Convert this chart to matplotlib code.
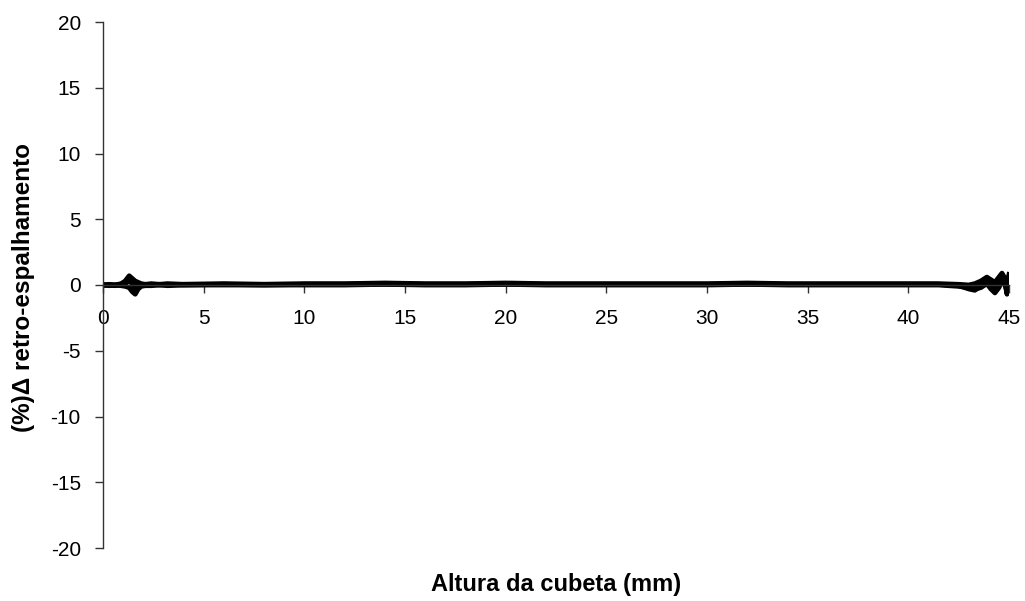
import matplotlib
matplotlib.use("Agg")
import matplotlib.pyplot as plt

plt.rcParams['font.family'] = ['Liberation Sans', 'DejaVu Sans']
plt.rcParams['axes.unicode_minus'] = False

# Measurement heights (mm)
x_pos = [0.0, 0.3, 0.6, 0.9, 1.1, 1.3, 1.45, 1.6, 1.75, 1.9, 2.1, 2.4, 2.8, 3.2, 4.0,
         6.0, 8.0, 10.0, 12.0, 14.0, 16.0, 18.0, 20.0, 22.0, 24.0, 26.0, 28.0, 30.0,
         32.0, 34.0, 36.0, 38.0, 40.0, 41.5, 42.5, 43.0, 43.3, 43.6, 43.9, 44.1, 44.3,
         44.5, 44.65, 44.8, 44.9, 45.0]

# Backscattering variation curves (%), one per scan
scan_1 = [0.0, 0.05, 0.0, 0.1, 0.3, 0.7, 0.5, 0.3, 0.2, 0.1, 0.05, 0.1, 0.05, 0.1, 0.05,
          0.1, 0.05, 0.1, 0.1, 0.15, 0.1, 0.1, 0.15, 0.1, 0.1, 0.1, 0.1, 0.1,
          0.15, 0.1, 0.1, 0.1, 0.1, 0.1, 0.05, 0.0, 0.1, 0.3, 0.6, 0.4, 0.2,
          0.6, 0.9, 0.5, 0.1, 0.8]
scan_2 = [0.0, 0.0, -0.05, 0.05, 0.2, 0.5, 0.4, 0.2, 0.1, 0.05, 0.0, 0.05, 0.0, 0.05, 0.0,
          0.05, 0.0, 0.05, 0.05, 0.1, 0.05, 0.05, 0.1, 0.05, 0.05, 0.05, 0.05, 0.05,
          0.1, 0.05, 0.05, 0.05, 0.05, 0.05, 0.0, -0.1, 0.0, 0.2, 0.4, 0.2, 0.0,
          0.4, 0.7, 0.3, -0.3, 0.6]
scan_3 = [0.0, -0.05, 0.0, -0.05, -0.1, -0.2, -0.5, -0.7, -0.3, -0.1, -0.05, -0.05, 0.0, -0.05, 0.0,
          0.0, 0.0, 0.0, 0.0, 0.05, 0.0, 0.0, 0.05, 0.0, 0.0, 0.0, 0.0, 0.0,
          0.05, 0.0, 0.0, 0.0, 0.0, 0.0, -0.1, -0.2, -0.3, -0.2, 0.1, -0.3, -0.6,
          -0.2, 0.3, 0.0, -0.5, 0.2]
scan_4 = [0.0, 0.0, 0.0, 0.0, 0.1, 0.3, 0.1, -0.3, -0.1, 0.0, 0.0, 0.0, 0.05, 0.0, 0.05,
          0.05, 0.05, 0.05, 0.05, 0.05, 0.05, 0.05, 0.05, 0.05, 0.05, 0.05, 0.05, 0.05,
          0.05, 0.05, 0.05, 0.05, 0.05, 0.05, -0.05, -0.3, -0.4, -0.1, 0.3, 0.0, -0.3,
          0.1, 0.5, 0.2, -0.7, 0.4]
scans = [scan_1, scan_2, scan_3, scan_4]

x_ticks = [0, 5, 10, 15, 20, 25, 30, 35, 40, 45]
y_ticks = [-20, -15, -10, -5, 0, 5, 10, 15, 20]

fig = plt.figure(figsize=(10.25, 6.01), dpi=100)
ax = fig.add_axes([103 / 1025, 1 - 548 / 601, (1009 - 103) / 1025, (548 - 22) / 601])

for s in scans:
    ax.plot(x_pos, s, color='black', linewidth=3.5, solid_joinstyle='round')

ax.set_xlim(0, 45)
ax.set_ylim(-20, 20)
ax.set_xticks(x_ticks)
ax.set_yticks(y_ticks)
ax.spines['top'].set_visible(False)
ax.spines['right'].set_visible(False)
ax.spines['bottom'].set_position(('data', 0))
ax.spines['left'].set_color('#333333')
ax.spines['bottom'].set_color('#333333')
ax.spines['left'].set_linewidth(1.0)
ax.spines['bottom'].set_linewidth(1.0)
ax.tick_params(axis='both', direction='out', length=6, width=1.0, color='#333333',
               labelsize=15)
ax.tick_params(axis='y', pad=10)
ax.tick_params(axis='x', pad=11)

fig.text(0.5 * (103 + 1009) / 1025, 1 - 584 / 601, 'Altura da cubeta (mm)',
         ha='center', va='center', fontsize=17, fontweight='bold')
fig.text(24 / 1025, 1 - 288 / 601, '(%)\u0394 retro-espalhamento', rotation=90,
         ha='center', va='center', fontsize=17.5, fontweight='bold')

fig.savefig('out.png', dpi=100)
